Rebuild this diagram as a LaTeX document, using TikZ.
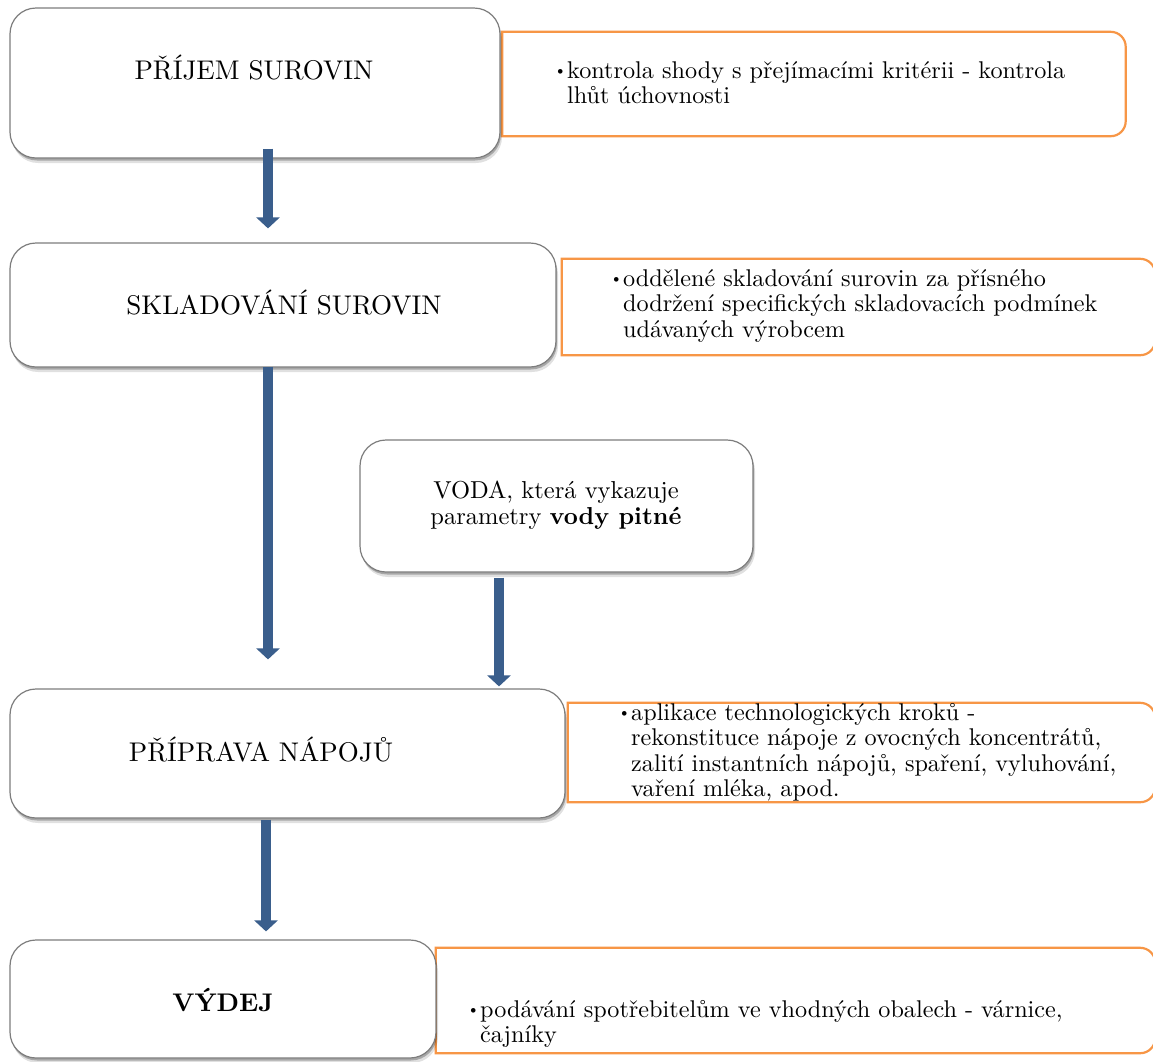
\documentclass[tikz,border=0pt]{standalone}
\usepackage{fontspec}
\setmainfont{lmroman10-regular.otf}[BoldFont=lmroman10-bold.otf]
\usetikzlibrary{arrows.meta,shadows}
\definecolor{boxgray}{RGB}{125,125,125}
\definecolor{accorange}{RGB}{247,150,70}
\definecolor{arrowblue}{RGB}{58,94,140}
\newcommand{\blt}{\makebox[12pt][l]{\hspace{-1pt}\fontsize{16}{16}\selectfont\raisebox{2.5pt}{\textbullet}}}
\newcommand{\bind}{\hspace*{12pt}}
\begin{document}
\begin{tikzpicture}[x=1pt,y=1pt,
  mainbox/.style={draw=boxgray, line width=1.2pt, fill=white, rounded corners=26pt, inner sep=0pt,
    drop shadow={shadow xshift=1pt, shadow yshift=-2.5pt, opacity=0.25, fill=black},
    drop shadow={shadow xshift=2pt, shadow yshift=-5pt, opacity=0.12, fill=black}},
  notebox/.style={fill=white, draw=none, inner sep=0pt},
  noteline/.style={draw=accorange, line width=2.2pt},
  maintext/.style={font=\fontsize{27}{30}\selectfont, inner sep=0pt, anchor=base},
  notetext/.style={font=\fontsize{24.2}{25.5}\selectfont, inner sep=0pt, anchor=base west, align=left},
  bluearrow/.style={draw=arrowblue, line width=10pt, -{Triangle[width=23pt,length=11pt]}},
]
\useasboundingbox (0,0) rectangle (1153,-1061);
\fill[white] (0,0) rectangle (1153,-1061);

% orange note boxes
\node[notebox, minimum width=623pt, minimum height=104pt] (o1) at (814,-84) {};
\node[notebox, minimum width=593pt, minimum height=96pt] (o2) at (858.5,-307) {};
\node[notebox, minimum width=587pt, minimum height=99pt] (o3) at (861.5,-752.5) {};
\node[notebox, minimum width=719pt, minimum height=105pt] (o4) at (795.5,-1000.5) {};
\foreach \n in {o1,o2,o3,o4}{
  \draw[noteline] (\n.south west) -- (\n.north west) -- ([xshift=-15pt]\n.north east)
    arc[start angle=90,end angle=0,radius=15pt] -- ([yshift=15pt]\n.south east)
    arc[start angle=0,end angle=-90,radius=15pt] -- cycle;
}

% main boxes
\node[mainbox, minimum width=490pt, minimum height=150pt] (b1) at (255,-83) {};
\node[mainbox, minimum width=546pt, minimum height=124pt] (b2) at (283,-305) {};
\node[mainbox, minimum width=393pt, minimum height=132pt] (w) at (556.5,-506) {};
\node[mainbox, minimum width=555pt, minimum height=129pt] (b3) at (287.5,-753.5) {};
\node[mainbox, minimum width=426pt, minimum height=118pt] (b4) at (223,-999) {};

% main texts
\node[maintext] (t1) at (254,-79) {PŘÍJEM SUROVIN};
\node[maintext] (t2) at (284,-314) {SKLADOVÁNÍ SUROVIN};
\node[maintext, font=\fontsize{24.5}{26}\selectfont, align=center] (tw) at (556,-524) {VODA, která vykazuje\\parametry \textbf{vody pitné}};
\node[maintext] (t3) at (261,-761) {PŘÍPRAVA NÁPOJŮ};
\node[maintext, font=\fontsize{25.5}{28}\selectfont] (t4) at (223,-1011) {\textbf{VÝDEJ}};

% note texts (base = last line)
\node[notetext] (n1) at (555,-103.5) {\blt kontrola shody s přejímacími kritérii - kontrola\\\bind lhůt úchovnosti};
\node[notetext] (n2) at (611,-337) {\blt oddělené skladování surovin za přísného\\\bind dodržení specifických skladovacích podmínek\\\bind udávaných výrobcem};
\node[notetext] (n3) at (619,-796.5) {\blt aplikace technologických kroků -\\\bind rekonstituce nápoje z ovocných koncentrátů,\\\bind zalití instantních nápojů, spaření, vyluhování,\\\bind vaření mléka, apod.};
\node[notetext] (n4) at (468,-1042.5) {\blt podávání spotřebitelům ve vhodných obalech - várnice,\\\bind čajníky};

% arrows
\coordinate (a1) at ([xshift=13pt]b1.south);
\draw[bluearrow] ([yshift=10pt]a1) -- ([yshift=14pt]a1 |- b2.north);
\coordinate (a2) at ([xshift=-15pt]b2.south);
\draw[bluearrow] ([yshift=1pt]a2) -- ([yshift=29pt]a2 |- b3.north);
\coordinate (a3) at ([xshift=-57.5pt]w.south);
\draw[bluearrow] ([yshift=-5pt]a3) -- ([yshift=2pt]a3 |- b3.north);
\coordinate (a4) at ([xshift=-21.5pt]b3.south);
\draw[bluearrow] ([yshift=-1pt]a4) -- ([yshift=8pt]a4 |- b4.north);
\end{tikzpicture}
\end{document}
